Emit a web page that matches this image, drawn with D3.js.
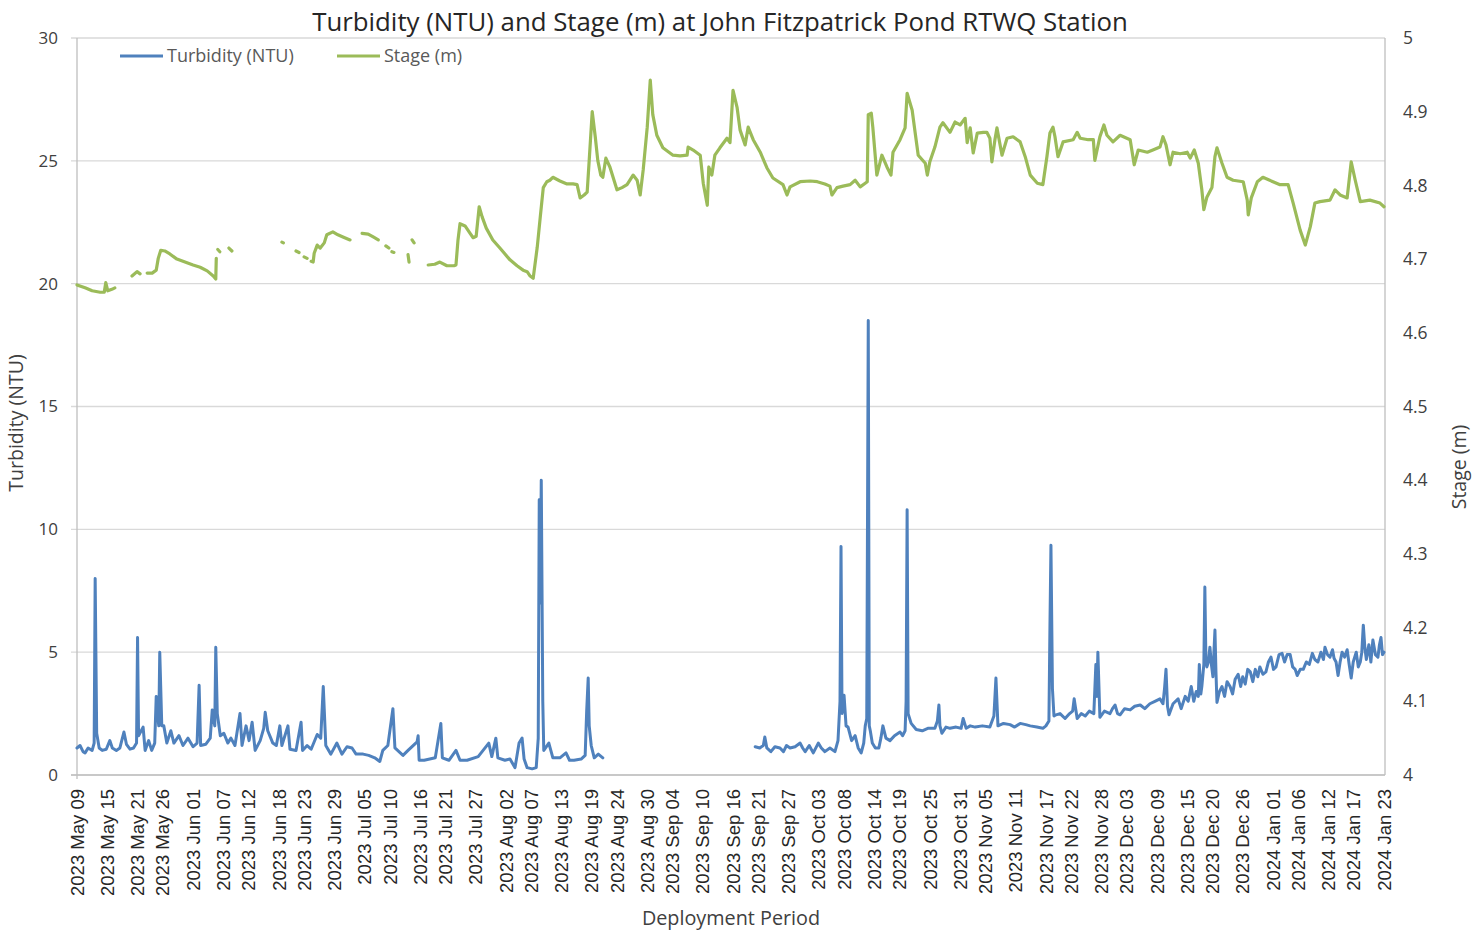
<!DOCTYPE html>
<html><head><meta charset="utf-8">
<script src="https://cdn.jsdelivr.net/npm/d3@7"></script>
<style>body{margin:0;background:#fff}svg{display:block}</style>
</head><body>
<svg id="chart" width="1484" height="930"></svg>
<script>
// ---------- DATA ----------
const chartTitle = "Turbidity (NTU) and Stage (m) at John Fitzpatrick Pond RTWQ Station";
const deploymentStart = "2023 May 09";
const deploymentEnd = "2024 Jan 23";
const turbidityRange = [0, 30];
const stageRange = [4, 5];

const tickLabels = ["2023 May 09","2023 May 15","2023 May 21","2023 May 26","2023 Jun 01","2023 Jun 07","2023 Jun 12","2023 Jun 18","2023 Jun 23","2023 Jun 29","2023 Jul 05","2023 Jul 10","2023 Jul 16","2023 Jul 21","2023 Jul 27","2023 Aug 02","2023 Aug 07","2023 Aug 13","2023 Aug 19","2023 Aug 24","2023 Aug 30","2023 Sep 04","2023 Sep 10","2023 Sep 16","2023 Sep 21","2023 Sep 27","2023 Oct 03","2023 Oct 08","2023 Oct 14","2023 Oct 19","2023 Oct 25","2023 Oct 31","2023 Nov 05","2023 Nov 11","2023 Nov 17","2023 Nov 22","2023 Nov 28","2023 Dec 03","2023 Dec 09","2023 Dec 15","2023 Dec 20","2023 Dec 26","2024 Jan 01","2024 Jan 06","2024 Jan 12","2024 Jan 17","2024 Jan 23"];

// [days since deployment start, turbidity NTU]; null = no data
const turbidityBeforeGap = [[0.0,1.1],[0.6,1.2],[1.2,0.95],[1.6,0.9],[2.2,1.1],[3.0,1.0],[3.4,1.3],[3.6,8.0],[3.9,1.7],[4.4,1.1],[5.0,1.0],[5.8,1.05],[6.5,1.4],[7.0,1.1],[7.8,1.0],[8.5,1.1],[9.3,1.75],[9.8,1.25],[10.5,1.05],[11.2,1.1],[11.8,1.3],[12.0,5.6],[12.2,1.6],[13.1,1.95],[13.5,1.0],[14.2,1.4],[14.8,1.0],[15.4,1.3],[15.7,3.2],[16.2,2.0],[16.4,5.0],[16.8,2.0],[17.2,2.0],[17.8,1.3],[18.6,1.8],[19.2,1.3],[20.2,1.6],[21.0,1.2],[22.0,1.5],[23.0,1.15],[23.8,1.3],[24.2,3.65],[24.5,1.2],[25.5,1.25],[26.4,1.5],[26.8,2.65],[27.3,2.0],[27.5,5.2],[27.8,2.5],[28.4,1.6],[29.1,1.7],[29.9,1.3],[30.5,1.5],[31.3,1.2],[32.3,2.5],[32.7,1.2],[33.5,2.0],[34.1,1.4],[34.7,2.15],[35.3,1.0],[36.3,1.4],[37.0,1.9],[37.3,2.55],[37.8,1.8],[38.4,1.5],[38.8,1.3],[39.5,1.2],[40.2,2.0],[40.6,1.2],[41.8,2.0],[42.2,1.05],[43.4,1.0],[44.4,2.15],[44.7,1.0],[45.6,1.2],[46.4,1.05],[47.6,1.65],[48.3,1.5],[48.8,3.6],[49.3,1.2],[50.3,0.85],[51.5,1.3],[52.5,0.85],[53.5,1.15],[54.5,1.1],[55.3,0.85],[56.7,0.85],[57.8,0.8],[59.0,0.7],[60.0,0.55],[60.6,1.0],[61.6,1.2],[62.6,2.7],[63.0,1.1],[64.6,0.8],[65.6,1.0],[67.4,1.35],[67.6,1.6],[67.8,0.6],[68.8,0.6],[71.0,0.7],[72.1,2.1],[72.4,0.7],[73.7,0.6],[75.1,1.0],[75.9,0.6],[77.3,0.6],[79.5,0.75],[81.6,1.3],[82.2,0.75],[83.0,1.5],[83.4,0.7],[84.8,0.6],[85.8,0.65],[86.8,0.3],[87.6,1.3],[88.2,1.5],[88.6,0.65],[89.2,0.3],[90.2,0.25],[91.0,0.3],[91.4,1.5],[91.6,11.2],[91.8,7.0],[92.0,12.0],[92.3,3.0],[92.5,1.0],[93.5,1.3],[94.3,0.7],[95.7,0.7],[96.9,0.9],[97.6,0.6],[98.5,0.6],[99.9,0.65],[100.7,0.8],[101.0,2.6],[101.3,3.95],[101.5,2.0],[101.9,1.2],[102.5,0.7],[103.3,0.85],[104.2,0.7]];

const turbidityAfterGap = [[134.4,1.15],[135.3,1.1],[136.0,1.2],[136.3,1.55],[136.7,1.1],[137.5,0.95],[138.3,1.15],[139.3,1.1],[140.0,0.95],[140.6,1.2],[141.3,1.1],[142.3,1.15],[143.3,1.3],[143.8,1.1],[144.3,0.95],[145.1,1.2],[145.9,0.9],[146.9,1.3],[147.5,1.1],[148.2,0.95],[149.2,1.1],[150.2,0.95],[150.8,1.4],[151.2,3.0],[151.4,9.3],[151.6,2.5],[152.0,3.25],[152.4,2.0],[152.8,1.95],[153.5,1.4],[154.2,1.6],[154.8,1.1],[155.4,0.9],[155.9,1.3],[156.2,2.0],[156.5,2.3],[156.8,18.5],[157.0,2.0],[157.2,1.8],[157.6,1.3],[158.2,1.1],[158.9,1.1],[159.3,1.5],[159.7,2.0],[160.3,1.5],[161.1,1.4],[162.0,1.6],[163.1,1.75],[163.6,1.6],[164.1,1.8],[164.3,3.0],[164.5,10.8],[164.7,2.5],[165.3,2.1],[166.3,1.85],[167.5,1.8],[168.6,1.9],[170.0,1.9],[170.5,2.2],[170.8,2.85],[171.0,2.0],[171.4,1.7],[172.2,1.95],[173.0,1.9],[174.2,1.95],[175.2,1.9],[175.6,2.3],[176.2,1.9],[177.0,2.0],[178.0,1.95],[179.4,2.0],[180.9,1.95],[181.7,2.4],[182.1,3.95],[182.5,2.0],[183.6,2.1],[184.9,2.05],[185.8,1.95],[186.9,2.1],[188.0,2.05],[188.9,2.0],[190.2,1.95],[191.4,1.9],[192.0,2.0],[192.6,2.2],[192.8,6.0],[193.0,9.35],[193.3,3.5],[193.6,2.4],[194.0,2.45],[194.8,2.5],[195.8,2.3],[196.7,2.5],[197.3,2.6],[197.6,3.1],[197.9,2.7],[198.2,2.3],[199.0,2.5],[199.8,2.4],[200.6,2.6],[201.5,2.5],[201.7,3.5],[201.9,4.5],[202.1,3.2],[202.3,5.0],[202.7,2.35],[203.6,2.6],[204.7,2.5],[205.2,2.7],[205.7,2.85],[206.2,2.5],[206.7,2.45],[207.6,2.7],[208.7,2.65],[209.6,2.8],[210.7,2.85],[211.6,2.7],[212.6,2.9],[213.6,3.0],[214.6,3.1],[215.2,2.9],[215.5,3.5],[215.8,4.3],[216.1,2.8],[216.4,2.45],[217.2,2.9],[218.2,3.1],[218.8,2.7],[219.6,3.2],[220.2,3.0],[220.8,3.6],[221.3,3.0],[221.8,3.4],[222.2,3.2],[222.4,4.5],[222.7,3.3],[222.9,3.6],[223.3,4.5],[223.5,7.65],[223.7,4.8],[223.9,4.4],[224.2,4.6],[224.5,5.2],[224.8,4.5],[225.1,4.0],[225.3,5.0],[225.5,5.9],[225.7,4.2],[225.9,2.95],[226.4,3.4],[226.9,3.6],[227.4,3.2],[227.9,3.8],[228.5,3.6],[229.0,3.3],[229.5,3.9],[230.1,4.1],[230.6,3.6],[231.0,4.0],[231.5,3.7],[232.0,4.3],[232.5,4.2],[233.0,3.8],[233.5,4.3],[234.0,4.0],[234.4,4.4],[235.0,4.1],[235.6,4.2],[236.1,4.6],[236.6,4.8],[237.1,4.3],[237.6,4.4],[238.2,4.9],[238.8,4.95],[239.3,4.6],[239.8,4.9],[240.4,4.9],[240.9,4.4],[241.4,4.3],[241.8,4.05],[242.4,4.3],[243.0,4.3],[243.6,4.6],[244.2,4.5],[244.8,4.95],[245.3,4.7],[245.9,4.6],[246.5,5.0],[247.0,4.7],[247.3,5.2],[247.8,4.9],[248.3,4.8],[248.8,5.1],[249.1,4.75],[249.5,4.6],[249.9,4.05],[250.3,4.6],[250.7,5.0],[251.2,4.8],[251.7,5.1],[252.1,4.5],[252.5,3.95],[252.9,4.6],[253.5,5.0],[253.9,4.4],[254.3,4.6],[254.6,5.0],[254.9,6.1],[255.2,5.2],[255.5,4.7],[256.0,5.3],[256.4,4.6],[256.8,5.5],[257.3,4.9],[257.8,4.8],[258.1,5.3],[258.4,5.6],[258.7,4.9],[259.0,5.0]];

// [days since deployment start, stage m]; null = no data
const stageEarly = [[0.0,4.665],[1.6,4.661],[3.0,4.657],[4.6,4.655],[5.4,4.655],[5.7,4.668],[6.1,4.657],[6.9,4.659],[7.5,4.661],[9,null],[10.9,4.677],[11.9,4.683],[12.5,4.680],[13.2,null],[13.9,4.681],[14.9,4.681],[15.7,4.685],[16.1,4.701],[16.6,4.712],[17.4,4.711],[18.4,4.707],[19.8,4.700],[21.4,4.696],[23.0,4.692],[24.4,4.689],[25.8,4.684],[27.0,4.677],[27.5,4.673],[27.6,4.701],[27.75,null],[27.9,4.713],[28.3,4.710],[29,null],[30.1,4.715],[30.7,4.711],[35,null],[40.6,4.723],[40.9,4.722],[42,null],[43.4,4.711],[44.0,4.709],[44.5,null],[45.0,4.703],[45.6,4.701],[46.0,null],[46.4,4.697],[46.8,4.696],[47.0,4.708],[47.6,4.719],[48.2,4.715],[49.0,4.722],[49.5,4.733],[50.7,4.737],[51.7,4.733],[52.7,4.730],[54.1,4.726],[55,null],[56.5,4.735],[57.7,4.734],[58.7,4.730],[59.7,4.726],[60.5,null],[61.2,4.718],[61.8,4.715],[62.1,null],[62.4,4.710],[62.8,4.709],[64,null],[65.6,4.706],[65.8,4.696],[66.1,null],[66.4,4.726],[66.8,4.722],[68,null]];

const stageMain = [[69.6,4.692],[70.9,4.693],[71.9,4.696],[73.3,4.691],[74.7,4.691],[75.1,4.692],[75.5,4.726],[75.9,4.748],[76.9,4.745],[77.9,4.735],[78.5,4.729],[79.1,4.731],[79.7,4.771],[80.3,4.757],[81.1,4.742],[82.4,4.726],[83.8,4.715],[85.8,4.699],[87.2,4.691],[88.4,4.685],[89.2,4.683],[89.8,4.677],[90.4,4.674],[91.2,4.716],[91.8,4.757],[92.4,4.797],[93.1,4.805],[93.7,4.807],[94.3,4.811],[95.7,4.806],[97.1,4.802],[98.3,4.802],[99.1,4.801],[99.7,4.783],[100.5,4.787],[101.1,4.791],[101.5,4.834],[102.1,4.900],[102.7,4.866],[103.2,4.834],[103.8,4.814],[104.2,4.811],[104.8,4.837],[105.6,4.825],[107.0,4.794],[108.0,4.797],[109.0,4.801],[110.2,4.814],[111.0,4.807],[111.6,4.787],[112.2,4.821],[113.0,4.879],[113.6,4.943],[114.1,4.896],[114.9,4.868],[116.1,4.851],[118.1,4.841],[119.5,4.840],[120.9,4.841],[121.1,4.852],[122.1,4.848],[123.5,4.841],[124.1,4.803],[124.9,4.773],[125.2,4.825],[125.8,4.814],[126.4,4.841],[127.4,4.851],[128.8,4.864],[129.4,4.858],[130.0,4.929],[130.8,4.906],[131.4,4.875],[132.4,4.855],[133.0,4.879],[134.0,4.862],[135.4,4.845],[136.7,4.824],[137.9,4.810],[139.9,4.801],[140.7,4.787],[141.3,4.798],[143.3,4.805],[145.3,4.806],[146.7,4.805],[148.2,4.802],[149.2,4.799],[149.6,4.787],[150.6,4.797],[151.8,4.799],[153.2,4.801],[154.2,4.807],[155.2,4.798],[156.2,4.803],[156.6,4.805],[156.8,4.896],[157.4,4.898],[157.7,4.879],[158.5,4.814],[159.5,4.841],[160.5,4.825],[161.3,4.814],[161.7,4.845],[163.1,4.862],[164.1,4.878],[164.5,4.925],[165.5,4.902],[166.1,4.871],[166.7,4.841],[168.1,4.830],[168.5,4.814],[169.0,4.832],[170.0,4.852],[171.0,4.879],[171.6,4.885],[173.0,4.872],[174.0,4.886],[175.0,4.882],[176.0,4.891],[176.4,4.858],[177.0,4.878],[177.6,4.844],[178.4,4.871],[179.6,4.872],[180.3,4.872],[180.9,4.864],[181.3,4.832],[181.9,4.862],[182.3,4.878],[183.3,4.841],[184.3,4.864],[185.5,4.866],[186.9,4.859],[187.9,4.839],[188.9,4.814],[190.3,4.803],[191.4,4.801],[192.2,4.839],[192.8,4.871],[193.4,4.879],[193.8,4.866],[194.4,4.839],[195.4,4.859],[197.4,4.862],[198.2,4.872],[198.8,4.864],[200.4,4.862],[201.4,4.862],[201.7,4.834],[202.7,4.866],[203.5,4.882],[204.1,4.868],[205.3,4.859],[206.7,4.868],[208.7,4.862],[209.5,4.828],[210.3,4.848],[212.1,4.845],[213.2,4.848],[214.6,4.852],[215.2,4.866],[215.8,4.855],[216.6,4.828],[217.2,4.845],[218.6,4.843],[220.0,4.845],[220.6,4.837],[221.4,4.848],[222.2,4.830],[222.9,4.794],[223.3,4.767],[223.9,4.784],[224.9,4.797],[225.5,4.839],[225.9,4.851],[226.9,4.830],[227.9,4.811],[229.1,4.807],[231.1,4.805],[231.9,4.780],[232.1,4.760],[232.7,4.783],[233.9,4.805],[235.0,4.811],[237.0,4.805],[238.4,4.801],[240.0,4.801],[241.0,4.776],[242.4,4.739],[243.4,4.719],[244.4,4.744],[245.3,4.776],[246.3,4.778],[248.3,4.780],[249.3,4.794],[250.3,4.787],[251.7,4.783],[252.5,4.832],[253.3,4.807],[254.3,4.778],[256.2,4.780],[258.2,4.776],[259.0,4.771]];

const seriesNames = ["Turbidity (NTU)", "Stage (m)"];
const seriesColors = ["#4f81bd", "#9bbb59"];

// ---------- CHART ----------
const svg = d3.select("#chart");
const m = {left: 77, right: 1385, top: 38, bottom: 775};
const parse = d3.utcParse("%Y %b %d");
const t0 = parse(deploymentStart), t1 = parse(deploymentEnd);
const toDate = d => new Date(t0.getTime() + d * 864e5);

const x = d3.scaleUtc().domain([t0, t1]).range([m.left, 1384]);
const yL = d3.scaleLinear().domain(turbidityRange).range([m.bottom, m.top]);
const yR = d3.scaleLinear().domain(stageRange).range([m.bottom, m.top]);

const font = "'Open Sans', Lato, sans-serif";
const grid = "#d9d9d9";

// gridlines
svg.append("g").selectAll("line").data(yL.ticks(6)).join("line")
  .attr("x1", m.left - 6).attr("x2", m.right)
  .attr("y1", d => yL(d)).attr("y2", d => yL(d))
  .attr("stroke", grid).attr("stroke-width", 1.3);

// axis frame lines
svg.append("line").attr("x1", m.left).attr("x2", m.left).attr("y1", m.top).attr("y2", m.bottom + 4).attr("stroke", "#bfbfbf").attr("stroke-width", 1.3);
svg.append("line").attr("x1", m.right).attr("x2", m.right).attr("y1", m.top).attr("y2", m.bottom).attr("stroke", "#bfbfbf").attr("stroke-width", 1.3);
svg.append("line").attr("x1", m.left - 6).attr("x2", m.right).attr("y1", m.bottom).attr("y2", m.bottom).attr("stroke", "#bfbfbf").attr("stroke-width", 1.3);

// left axis labels
svg.append("g").selectAll("text").data(yL.ticks(6)).join("text")
  .attr("x", 58).attr("y", d => yL(d)).attr("dy", "0.35em")
  .attr("text-anchor", "end").attr("font-family", font).attr("font-size", 17)
  .attr("fill", "#404040").text(d => d);

// right axis labels
svg.append("g").selectAll("text").data(yR.ticks(10)).join("text")
  .attr("x", 1403).attr("y", d => yR(d)).attr("dy", "0.35em")
  .attr("text-anchor", "start").attr("font-family", font).attr("font-size", 17.5)
  .attr("fill", "#404040").text(d => d3.format("~g")(d));

// x tick labels
svg.append("g").selectAll("text").data(tickLabels).join("text")
  .attr("transform", d => `translate(${x(parse(d))},789) rotate(-90)`)
  .attr("dy", "0.36em").attr("text-anchor", "end")
  .attr("font-family", "'Liberation Sans', Arial, sans-serif").attr("font-size", 18.5)
  .attr("fill", "#262626").text(d => d);

// lines
const lineL = d3.line().defined(p => p[1] != null).x(p => x(toDate(p[0]))).y(p => yL(p[1]));
const lineR = d3.line().defined(p => p[1] != null).x(p => x(toDate(p[0]))).y(p => yR(p[1]));
const turbAll = turbidityBeforeGap.concat([[118, null]], turbidityAfterGap);
const stageAll = stageEarly.concat(stageMain);

svg.append("path").datum(turbAll).attr("d", lineL)
  .attr("fill", "none").attr("stroke", seriesColors[0]).attr("stroke-width", 3)
  .attr("stroke-linejoin", "round").attr("stroke-linecap", "round");
svg.append("path").datum(stageAll).attr("d", lineR)
  .attr("fill", "none").attr("stroke", seriesColors[1]).attr("stroke-width", 3.2)
  .attr("stroke-linejoin", "round").attr("stroke-linecap", "round");

// title
svg.append("text").attr("x", 720).attr("y", 31).attr("text-anchor", "middle")
  .attr("font-family", font).attr("font-size", 25.8).attr("fill", "#262626").text(chartTitle);

// axis titles
svg.append("text").attr("transform", "translate(23,423) rotate(-90)").attr("text-anchor", "middle")
  .attr("font-family", font).attr("font-size", 19.5).attr("fill", "#404040").text(seriesNames[0]);
svg.append("text").attr("transform", "translate(1466,467) rotate(-90)").attr("text-anchor", "middle")
  .attr("font-family", font).attr("font-size", 19.5).attr("fill", "#404040").text(seriesNames[1]);
svg.append("text").attr("x", 731).attr("y", 925).attr("text-anchor", "middle")
  .attr("font-family", font).attr("font-size", 19.8).attr("fill", "#404040").text("Deployment Period");

// legend
const legend = svg.append("g");
const legendX = [120, 337];
seriesNames.forEach((name, i) => {
  legend.append("line").attr("x1", legendX[i]).attr("x2", legendX[i] + 43).attr("y1", 56).attr("y2", 56)
    .attr("stroke", seriesColors[i]).attr("stroke-width", 3);
  legend.append("text").attr("x", legendX[i] + 47).attr("y", 56).attr("dy", "0.35em")
    .attr("font-family", font).attr("font-size", 18).attr("fill", "#595959").text(name);
});
</script>
</body></html>
